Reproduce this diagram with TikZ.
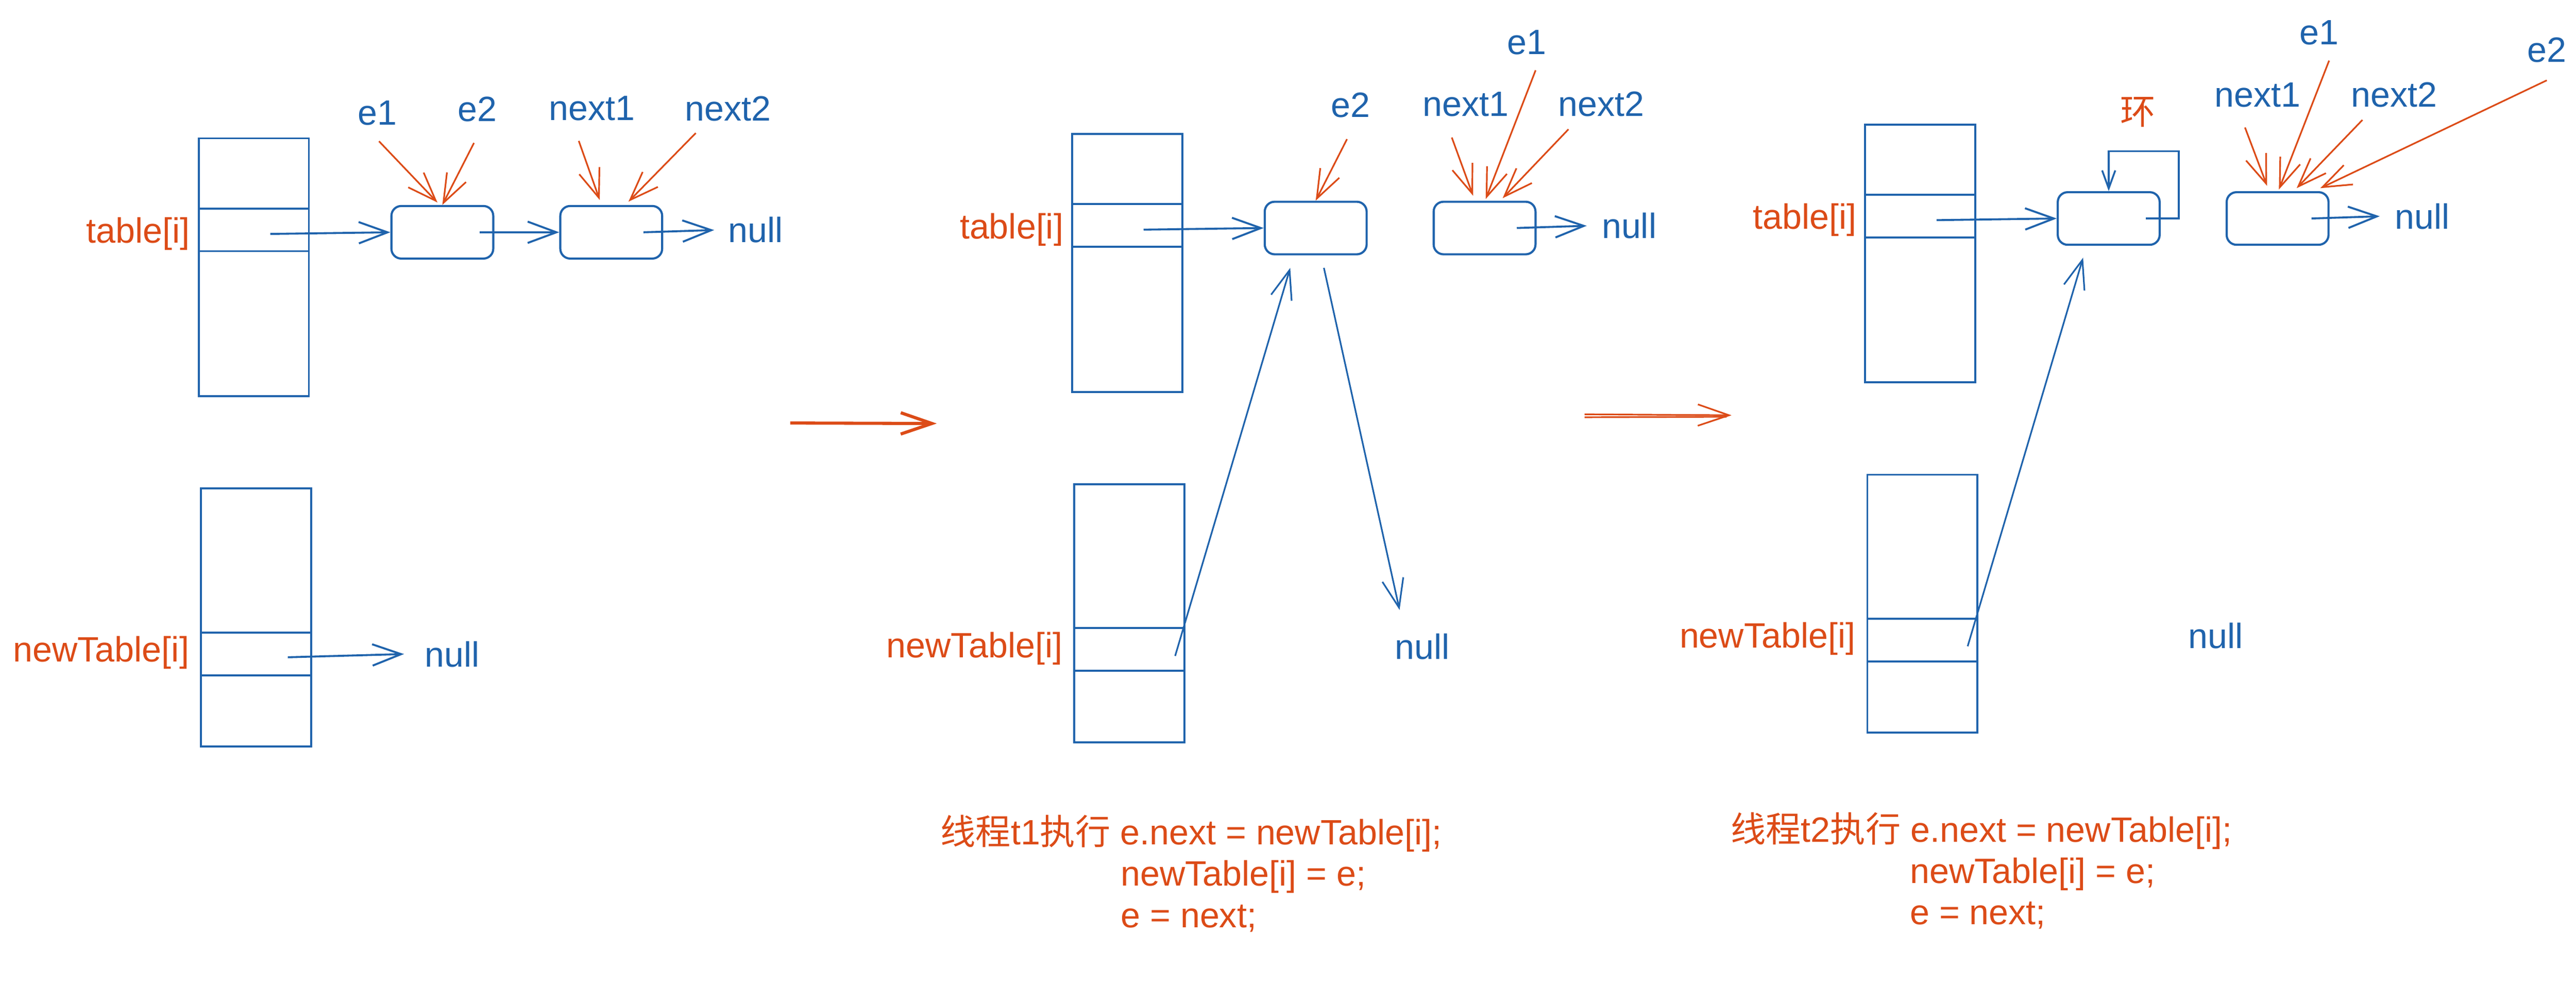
\documentclass[tikz,border=0pt]{standalone}
\usepackage{fontspec}
\setmainfont{Liberation Sans}
\newfontfamily\cjk{Noto Sans CJK SC}
\usepackage{xcolor}
\usepackage{tikz}
\usetikzlibrary{arrows.meta,positioning}
\definecolor{blu}{HTML}{1F63AC}
\definecolor{org}{HTML}{DC4B17}

\begin{document}
\begin{tikzpicture}[x=1pt,y=-1pt,>={Straight Barb[length=17.5pt,width=13pt]},
every node/.style = {inner sep=0pt, font=\fontsize{21.4}{25.7}\selectfont},
tabbox/.style={draw=blu, line width=1.2pt, minimum width=67pt, minimum height=157pt},
slotbox/.style={draw=blu, line width=1.2pt, minimum width=67pt, minimum height=26pt},
entry/.style={draw=blu, line width=1.3pt, rounded corners=6pt, minimum width=62pt, minimum height=32pt},
blab/.style={text=blu},
olab/.style={text=org},
link/.style={->, draw=blu, line width=1.2pt},
longlink/.style={->, draw=blu, line width=1pt},
ptr/.style={->, draw=org, line width=1pt},
trans/.style={draw=org, line width=1pt, >={Straight Barb[length=19pt,width=13pt]}}]
\useasboundingbox (0,0) rectangle (1568,599.3);
\fill[white] (0,0) rectangle (1568,599.3);

\node[tabbox] (t1) at (154.5,162.7) {};
\node[slotbox, below=42.7pt of t1.north] (s1) {};
\node[tabbox, below=55pt of t1, xshift=1.3pt] (nt1) {};
\node[slotbox, below=87.6pt of nt1.north] (ns1) {};
\node[olab, base left=4.5pt of s1, yshift=-8pt] (l1) {table[i]};
\node[olab, base left=6.4pt of ns1, yshift=-4.9pt] (nl1) {newTable[i]};
\node[entry, right=49pt of s1, yshift=-1.5pt] (a1) {};
\node[entry, right=39.5pt of a1] (b1) {};
\node[blab, base right=39.5pt of b1, yshift=-6.3pt] (z1) {null};
\node[blab, base right=68.6pt of ns1, yshift=-7.8pt] (nz1) {null};
\node[blab, anchor=base] (p1e1) at (229.7,76) {e1};
\node[blab, anchor=base] (p1e2) at (290.5,74) {e2};
\node[blab, anchor=base] (p1x1) at (360.3,73.3) {next1};
\node[blab, anchor=base] (p1x2) at (443,73.5) {next2};
\draw[link] ([shift={(10,2.5)}]s1.center) -- (a1.west);
\draw[link] ([xshift=-9pt]a1.east) -- (b1.west);
\draw[link] ([xshift=-12pt]b1.east) -- ([xshift=-8.5pt]z1.west);
\draw[link] ([shift={(19.4,2.1)}]ns1.center) -- ([xshift=-12.6pt]nz1.west);
\draw[ptr] ([shift={(1,10)}]p1e1.base) -- ([shift={(-3,-1.5)}]a1.north);
\draw[ptr] ([shift={(-2,13)}]p1e2.base) -- (a1.north);
\draw[ptr] ([shift={(-8,12.5)}]p1x1.base) -- ([shift={(-7,-3)}]b1.north);
\draw[ptr] ([shift={(-19.5,7.5)}]p1x2.base) -- ([shift={(10.5,-2)}]b1.north);

\coordinate (m1) at (481,257.5);
\coordinate (m2) at (570.2,257.8);
\draw[trans, ->, line width=1.9pt] (m1) -- (m2);

\node[tabbox] (t2) at (686.1,160.1) {};
\node[slotbox, below=42.7pt of t2.north] (s2) {};
\node[tabbox, below=55pt of t2, xshift=1.3pt] (nt2) {};
\node[slotbox, below=87.6pt of nt2.north] (ns2) {};
\node[olab, base left=4.5pt of s2, yshift=-8pt] (l2) {table[i]};
\node[olab, base left=6.4pt of ns2, yshift=-4.9pt] (nl2) {newTable[i]};
\node[entry, right=49pt of s2, yshift=-1.5pt] (a2) {};
\node[entry, right=39.5pt of a2] (b2) {};
\node[blab, base right=39.5pt of b2, yshift=-6.3pt] (z2) {null};
\node[blab, anchor=base] (nz2) at (865.7,401.2) {null};
\node[blab, anchor=base] (p2e2) at (822.2,71.5) {e2};
\node[blab, anchor=base] (p2x1) at (892.3,70.7) {next1};
\node[blab, anchor=base] (p2e1) at (929.2,33.2) {e1};
\node[blab, anchor=base] (p2x2) at (974.7,70.7) {next2};
\draw[link] ([shift={(10,2.5)}]s2.center) -- (a2.west);
\draw[link] ([xshift=-12pt]b2.east) -- ([xshift=-9pt]z2.west);
\draw[longlink] ([shift={(27.9,3.9)}]ns2.center) -- ([shift={(-15.5,7.6)}]a2.south);
\draw[longlink] ([shift={(5,7.6)}]a2.south) -- ([shift={(-13.8,-14.2)}]nz2.north);
\draw[ptr] ([shift={(-2.3,13.2)}]p2e2.base) -- (a2.north);
\draw[ptr] ([shift={(-8.6,13)}]p2x1.base) -- ([shift={(-7,-3)}]b2.north);
\draw[ptr] ([shift={(5.5,9.6)}]p2e1.base) -- ([shift={(0.7,-1)}]b2.north);
\draw[ptr] ([shift={(-20,8)}]p2x2.base) -- ([shift={(11,-1.5)}]b2.north);
\node[olab, anchor=base west] (c1) at (572.3,514.1) {{\cjk 线程}t1{\cjk 执行} e.next = newTable[i];};
\node[olab, anchor=base west] (c2) at (682,539.2) {newTable[i] = e;};
\node[olab, anchor=base west] (c3) at (682,564.5) {e = next;};

\coordinate (m3) at (964.5,253.1);
\coordinate (m4) at (1054,252.8);
\draw[trans, ->] ([yshift=0.9pt]m3) -- (m4);
\draw[trans] ([yshift=-0.9pt]m3) -- ([shift={(-3,0.9)}]m4);

\node[tabbox] (t3) at (1168.8,154.3) {};
\node[slotbox, below=42.7pt of t3.north] (s3) {};
\node[tabbox, below=55pt of t3, xshift=1.3pt] (nt3) {};
\node[slotbox, below=87.6pt of nt3.north] (ns3) {};
\node[olab, base left=4.5pt of s3, yshift=-8pt] (l3) {table[i]};
\node[olab, base left=6.4pt of ns3, yshift=-4.9pt] (nl3) {newTable[i]};
\node[entry, right=49pt of s3, yshift=-1.5pt] (a3) {};
\node[entry, right=39.5pt of a3] (b3) {};
\node[blab, base right=39.5pt of b3, yshift=-6.3pt] (z3) {null};
\node[blab, anchor=base] (nz3) at (1348.8,394.6) {null};
\node[olab] (ring) at (1301.4,68.4) {\cjk 环};
\node[blab, anchor=base] (p3x1) at (1374.3,65) {next1};
\node[blab, anchor=base] (p3e1) at (1411.7,27.1) {e1};
\node[blab, anchor=base] (p3x2) at (1457.4,65) {next2};
\node[blab, anchor=base] (p3e2) at (1550.2,37.9) {e2};
\draw[link] ([shift={(10,2.5)}]s3.center) -- (a3.west);
\draw[link] ([xshift=-11pt]b3.east) -- ([xshift=-9pt]z3.west);
\draw[draw=blu, line width=1.1pt, -{Straight Barb[length=11pt,width=8pt]}] ([xshift=-9pt]a3.east) -- ++(20,0) -- ++(0,-41) -| (a3.north);
\draw[longlink] ([shift={(27.6,3.8)}]ns3.center) -- ([shift={(-15.6,7.2)}]a3.south);
\draw[ptr] ([shift={(-7.8,12.6)}]p3x1.base) -- ([shift={(-6.4,-3.2)}]b3.north);
\draw[ptr] ([shift={(6,9.8)}]p3e1.base) -- ([shift={(0.8,-1)}]b3.north);
\draw[ptr] ([shift={(-19.4,8)}]p3x2.base) -- ([shift={(11.6,-1.8)}]b3.north);
\draw[ptr] ([shift={(0,11)}]p3e2.base) -- ([shift={(26,-1.8)}]b3.north);
\node[olab, anchor=base west] (c4) at (1053.3,512.6) {{\cjk 线程}t2{\cjk 执行} e.next = newTable[i];};
\node[olab, anchor=base west] (c5) at (1162.4,537.6) {newTable[i] = e;};
\node[olab, anchor=base west] (c6) at (1162.4,562.7) {e = next;};
\end{tikzpicture}
\end{document}
